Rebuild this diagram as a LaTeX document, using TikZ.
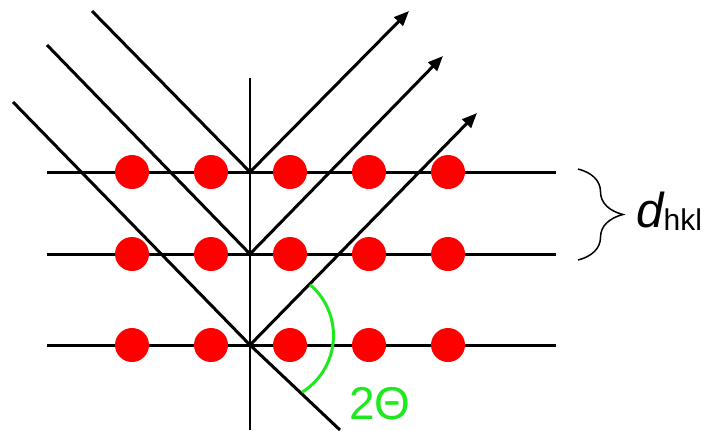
\documentclass[tikz,border=0pt]{standalone}
\usepackage{fontspec}
\setmainfont{Liberation Sans}
\usepackage{tikz}
\usetikzlibrary{
  arrows.meta,
  decorations.pathreplacing
}
\definecolor{atomred}{RGB}{255,0,0}
\definecolor{anglegreen}{RGB}{30,232,30}
\tikzset{
  atom/.style={circle, fill=atomred, minimum size=17pt, inner sep=0pt},
  planeline/.style={line width=1.5pt},
  inbeam/.style={line width=1.5pt},
  outbeam/.style={line width=1.5pt, -{Triangle[length=7.5pt, width=6pt]}},
  normalline/.style={line width=1pt},
}

\begin{document}
\begin{tikzpicture}[x=0.5pt, y=-0.5pt]
  \useasboundingbox (0,0) rectangle (707,430);

  % Reflection points on the normal
  \coordinate (R1) at (250,172);
  \coordinate (R2) at (250,254);
  \coordinate (R3) at (250,345);

  % Normal
  \coordinate (Ntop) at (250,78);
  \coordinate (Nbot) at (250,430);
  \draw[normalline] (Ntop) -- (Nbot);

  % Lattice planes
  \foreach \y/\n in {172/1, 254/2, 345/3} {
    \coordinate (P\n w) at (47,\y);
    \coordinate (P\n e) at (556,\y);
    \draw[planeline] (P\n w) -- (P\n e);
  }

  % Incoming beams
  \coordinate (S1) at (92,11);
  \coordinate (S2) at (47,45);
  \coordinate (S3) at (13,102);
  \coordinate (X3) at (340,430);
  \draw[inbeam] (S1) -- (R1);
  \draw[inbeam] (S2) -- (R2);
  \draw[inbeam] (S3) -- (R3) -- (X3);

  % Reflected beams
  \coordinate (T1) at (409,11);
  \coordinate (T2) at (443,56);
  \coordinate (T3) at (477,113);
  \draw[outbeam] (R1) -- (T1);
  \draw[outbeam] (R2) -- (T2);
  \draw[outbeam] (R3) -- (T3);

  % Atoms
  \foreach \y/\n in {172/1, 254/2, 345/3} {
    \foreach \x [count=\i] in {132, 211, 290, 369, 448} {
      \node[atom] (a\n\i) at (\x,\y) {};
    }
  }

  % Scattering angle
  \coordinate (Ac) at (266.5,335.5);
  \draw[anglegreen, line width=1.5pt] (Ac) ++(-49.3:67)
    arc[start angle=-49.3, end angle=57.9, radius=67];
  \node[anchor=base west, inner sep=0pt, text=anglegreen,
        font=\fontsize{23}{26}\selectfont] (theta) at (349,419) {2Θ};

  % Plane spacing
  \coordinate (Btop) at (578,169);
  \coordinate (Bbot) at (578,260);
  \draw[line width=0.75pt, decorate,
        decoration={brace, amplitude=22.5pt}] (Btop) -- (Bbot);
  \node[anchor=base west, inner sep=0pt] (dhkl) at (636,227)
    {{\fontsize{24.5}{27}\selectfont\itshape d}{\fontsize{15}{17}\selectfont\raisebox{-1.5pt}{hkl}}};
\end{tikzpicture}
\end{document}
